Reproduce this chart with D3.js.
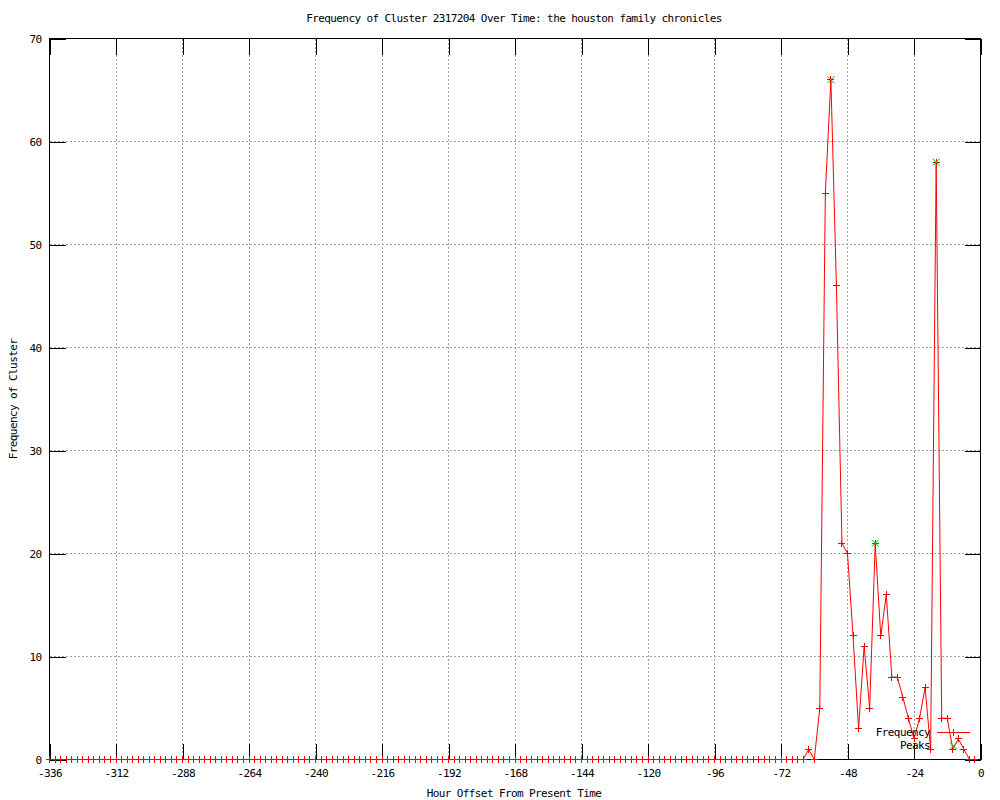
<!DOCTYPE html>
<html>
<head>
<meta charset="utf-8">
<script src="https://cdn.jsdelivr.net/npm/d3@7/dist/d3.min.js"></script>
<style>
body { margin: 0; background: #fff; }
text { font-family: "DejaVu Sans Mono", "Liberation Mono", monospace; font-size: 11px; letter-spacing: -0.6px; fill: #000; }
</style>
</head>
<body>
<svg id="chart" width="1000" height="800"></svg>
<script>
// hour offsets, one sample every 2 hours
var hours = [
  -336,-334,-332,-330,-328,-326,-324,-322,-320,-318,-316,-314,
  -312,-310,-308,-306,-304,-302,-300,-298,-296,-294,-292,-290,
  -288,-286,-284,-282,-280,-278,-276,-274,-272,-270,-268,-266,
  -264,-262,-260,-258,-256,-254,-252,-250,-248,-246,-244,-242,
  -240,-238,-236,-234,-232,-230,-228,-226,-224,-222,-220,-218,
  -216,-214,-212,-210,-208,-206,-204,-202,-200,-198,-196,-194,
  -192,-190,-188,-186,-184,-182,-180,-178,-176,-174,-172,-170,
  -168,-166,-164,-162,-160,-158,-156,-154,-152,-150,-148,-146,
  -144,-142,-140,-138,-136,-134,-132,-130,-128,-126,-124,-122,
  -120,-118,-116,-114,-112,-110,-108,-106,-104,-102,-100,-98,
  -96,-94,-92,-90,-88,-86,-84,-82,-80,-78,-76,-74,
  -72,-70,-68,-66,-64,-62,-60,-58,-56,-54,-52,-50,
  -48,-46,-44,-42,-40,-38,-36,-34,-32,-30,-28,-26,
  -24,-22,-20,-18,-16,-14,-12,-10,-8,-6,-4,-2
];

// frequency of the cluster at each offset
var counts = [
  0,0,0,0,0,0,0,0,0,0,0,0,
  0,0,0,0,0,0,0,0,0,0,0,0,
  0,0,0,0,0,0,0,0,0,0,0,0,
  0,0,0,0,0,0,0,0,0,0,0,0,
  0,0,0,0,0,0,0,0,0,0,0,0,
  0,0,0,0,0,0,0,0,0,0,0,0,
  0,0,0,0,0,0,0,0,0,0,0,0,
  0,0,0,0,0,0,0,0,0,0,0,0,
  0,0,0,0,0,0,0,0,0,0,0,0,
  0,0,0,0,0,0,0,0,0,0,0,0,
  0,0,0,0,0,0,0,0,0,0,0,0,
  0,0,0,0,0,1,0,5,55,66,46,21,
  20,12,3,11,5,21,12,16,8,8,6,4,
  2,4,7,1,58,4,4,1,2,1,0,0
];

var peakHours = [-54, -38, -16];
var peakCounts = [66, 21, 58];

var xTicks = [-336,-312,-288,-264,-240,-216,-192,-168,-144,-120,-96,-72,-48,-24,0];
var yTicks = [0,10,20,30,40,50,60,70];

var titleText = "Frequency of Cluster 2317204 Over Time: the houston family chronicles";
var xTitle = "Hour Offset From Present Time";
var yTitle = "Frequency of Cluster";

var svg = d3.select("#chart");

var plotLeft = 49.5, plotRight = 980.5, plotTop = 38.5, plotBottom = 759.5;

var x = d3.scaleLinear().domain([-336, 0]).range([plotLeft, plotRight]);
var y = d3.scaleLinear().domain([0, 70]).range([plotBottom, plotTop]);

var data = hours.map(function(h, i){ return {h: h, c: counts[i]}; });
var peaks = peakHours.map(function(h, i){ return {h: h, c: peakCounts[i]}; });

// grid
var grid = svg.append("g").attr("class", "grid");

grid.selectAll("line.vg")
  .data(xTicks).enter().append("line")
  .attr("class", "vg")
  .attr("x1", function(d){ return x(d); })
  .attr("x2", function(d){ return x(d); })
  .attr("y1", plotTop).attr("y2", plotBottom);

grid.selectAll("line.hg")
  .data(yTicks).enter().append("line")
  .attr("class", "hg")
  .attr("x1", plotLeft).attr("x2", plotRight)
  .attr("y1", function(d){ return y(d); })
  .attr("y2", function(d){ return y(d); });

grid.selectAll("line")
  .attr("stroke", "#a0a0a0")
  .attr("stroke-dasharray", "2,2")
  .attr("shape-rendering", "crispEdges");

var tickLen = 16;

// axes with inward ticks, mirrored on top and right
svg.append("g")
  .attr("class", "axis")
  .attr("transform", "translate(0," + plotBottom + ")")
  .call(d3.axisBottom(x).tickValues(xTicks).tickSizeInner(-tickLen).tickSizeOuter(0).tickPadding(10)
    .tickFormat(function(d){ return String(d); }));

svg.append("g")
  .attr("class", "axis")
  .attr("transform", "translate(0," + plotTop + ")")
  .call(d3.axisTop(x).tickValues(xTicks).tickSizeInner(-tickLen).tickSizeOuter(0).tickFormat(""));

svg.append("g")
  .attr("class", "axis")
  .attr("transform", "translate(" + plotLeft + ",0)")
  .call(d3.axisLeft(y).tickValues(yTicks).tickSizeInner(-tickLen).tickSizeOuter(0).tickPadding(8));

svg.append("g")
  .attr("class", "axis")
  .attr("transform", "translate(" + plotRight + ",0)")
  .call(d3.axisRight(y).tickValues(yTicks).tickSizeInner(-tickLen).tickSizeOuter(0).tickFormat(""));

svg.selectAll(".axis .domain").remove();
svg.selectAll(".axis line").attr("stroke", "#000").attr("shape-rendering", "crispEdges");
svg.selectAll(".axis text").attr("font-family", null).attr("font-size", null).attr("fill", "#000");

// border
svg.append("rect")
  .attr("x", plotLeft).attr("y", plotTop)
  .attr("width", plotRight - plotLeft).attr("height", plotBottom - plotTop)
  .attr("fill", "none").attr("stroke", "#000")
  .attr("shape-rendering", "crispEdges");

// frequency line
var line = d3.line()
  .x(function(d){ return x(d.h); })
  .y(function(d){ return y(d.c); });

svg.append("path")
  .datum(data)
  .attr("d", line)
  .attr("fill", "none")
  .attr("stroke", "#ff0000")
  .attr("stroke-width", 1);

var plusPath = "M-3.5,0H3.5M0,-3.5V3.5";
var crossPath = "M-3.5,-3.5L3.5,3.5M-3.5,3.5L3.5,-3.5";

svg.append("g")
  .selectAll("path")
  .data(data).enter().append("path")
  .attr("transform", function(d){ return "translate(" + x(d.h) + "," + y(d.c) + ")"; })
  .attr("d", plusPath)
  .attr("stroke", "#ff0000")
  .attr("fill", "none")
  .attr("shape-rendering", "crispEdges");

// peaks
svg.append("g")
  .selectAll("path")
  .data(peaks).enter().append("path")
  .attr("transform", function(d){ return "translate(" + x(d.h) + "," + y(d.c) + ")"; })
  .attr("d", crossPath)
  .attr("stroke", "#00c000")
  .attr("fill", "none");

// legend
var legend = svg.append("g").attr("class", "legend");

legend.append("text")
  .attr("x", 930).attr("y", 732.5)
  .attr("text-anchor", "end")
  .attr("dominant-baseline", "middle")
  .text("Frequency");

legend.append("line")
  .attr("x1", 937).attr("x2", 970)
  .attr("y1", 732.5).attr("y2", 732.5)
  .attr("stroke", "#ff0000")
  .attr("shape-rendering", "crispEdges");

legend.append("path")
  .attr("transform", "translate(953.5,732.5)")
  .attr("d", plusPath)
  .attr("stroke", "#ff0000")
  .attr("shape-rendering", "crispEdges");

legend.append("text")
  .attr("x", 930).attr("y", 746)
  .attr("text-anchor", "end")
  .attr("dominant-baseline", "middle")
  .text("Peaks");

legend.append("path")
  .attr("transform", "translate(953.5,746)")
  .attr("d", crossPath)
  .attr("stroke", "#00c000")
  .attr("fill", "none");

// titles
svg.append("text")
  .attr("x", 514).attr("y", 22)
  .attr("text-anchor", "middle")
  .text(titleText);

svg.append("text")
  .attr("x", 514).attr("y", 797)
  .attr("text-anchor", "middle")
  .text(xTitle);

svg.append("text")
  .attr("transform", "translate(17,399) rotate(-90)")
  .attr("text-anchor", "middle")
  .text(yTitle);
</script>
</body>
</html>
